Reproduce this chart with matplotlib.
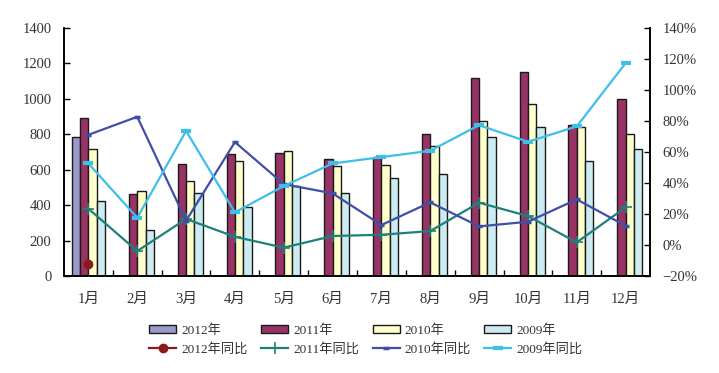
import matplotlib
matplotlib.use("Agg")
import matplotlib.pyplot as plt
import numpy as np

plt.rcParams['font.family'] = ['Liberation Serif', 'Noto Sans CJK SC']

months = ['1月', '2月', '3月', '4月', '5月', '6月', '7月', '8月', '9月', '10月', '11月', '12月']
sales_2012 = [784, np.nan, np.nan, np.nan, np.nan, np.nan, np.nan, np.nan, np.nan, np.nan, np.nan, np.nan]
sales_2011 = [891, 462, 631, 688, 694, 660, 673, 801, 1119, 1152, 852, 999]
sales_2010 = [716, 479, 535, 648, 705, 622, 626, 733, 876, 971, 841, 801]
sales_2009 = [422, 258, 467, 388, 509, 467, 552, 575, 784, 841, 648, 718]

yoy_2012 = [-12.0, np.nan, np.nan, np.nan, np.nan, np.nan, np.nan, np.nan, np.nan, np.nan, np.nan, np.nan]
yoy_2011 = [23.4, -3.9, 16.8, 5.3, -1.7, 5.8, 6.6, 9.0, 27.3, 18.7, 1.7, 24.3]
yoy_2010 = [71.1, 82.7, 15.7, 66.4, 39.3, 33.3, 12.9, 27.5, 12.0, 15.0, 29.4, 12.4]
yoy_2009 = [52.6, 17.6, 73.6, 21.1, 38.0, 52.6, 56.7, 60.8, 77.3, 66.6, 76.5, 117.3]

bar_colors = ['#9999CC', '#993366', '#FFFFCC', '#CCECF2']
line_colors = ['#8B1A1A', '#1F7F7A', '#3F4FA8', '#3DBFEA']
txt = '#333333'
fs = 10.5

fig = plt.figure(figsize=(7.19, 3.73), dpi=100)
ax = fig.add_axes([64/719, 1-276/373, (650-64)/719, (276-28)/373])
ax2 = ax.twinx()

x = np.arange(len(months))
bw = 0.17
series = [sales_2012, sales_2011, sales_2010, sales_2009]
labels_b = ['2012年', '2011年', '2010年', '2009年']
bars = []
for i, (s, c, lab) in enumerate(zip(series, bar_colors, labels_b)):
    b = ax.bar(x + (i - 1.5) * bw, s, bw, color=c, edgecolor='#1a1a1a', linewidth=1.0, label=lab, zorder=2)
    bars.append(b)

ax.set_xlim(-0.5, 11.5)
ax.set_ylim(0, 1400)
ax.set_yticks(np.arange(0, 1401, 200))
ax.set_xticks(x)
ax.set_xticklabels(months)
ax.set_xticks(np.arange(0.5, 11, 1), minor=True)
ax.tick_params(axis='x', which='major', length=0, pad=12, labelsize=fs, labelcolor=txt)
ax.tick_params(axis='x', which='minor', direction='in', length=4, width=1)
ax.tick_params(axis='y', direction='in', length=4, width=1, labelsize=fs, pad=9, labelcolor=txt)
for sp in ['top']:
    ax.spines[sp].set_visible(False)
    ax2.spines[sp].set_visible(False)
for sp in ['left', 'bottom', 'right']:
    ax.spines[sp].set_linewidth(1.2)
    ax2.spines[sp].set_linewidth(1.2)

l1, = ax2.plot(x, yoy_2012, color=line_colors[0], marker='o', markersize=6, lw=1.6, label='2012年同比', zorder=3)
l2, = ax2.plot(x, yoy_2011, color=line_colors[1], marker='+', markersize=8, mew=1.2, lw=1.6, label='2011年同比', zorder=3)
l3, = ax2.plot(x, yoy_2010, color=line_colors[2], marker='_', markersize=4, mew=2.5, lw=1.6, label='2010年同比', zorder=3)
l4, = ax2.plot(x, yoy_2009, color=line_colors[3], marker='_', markersize=6.5, mew=3, lw=1.6, label='2009年同比', zorder=3)
ax2.set_ylim(-20, 140)
ax2.set_yticks(np.arange(-20, 141, 20))
ax2.set_yticklabels([f'{v}%'.replace('-', '−') for v in range(-20, 141, 20)])
ax2.tick_params(axis='y', direction='in', length=4, width=1, labelsize=fs, pad=9, labelcolor=txt)

lfs = 9.5
handles = [bars[0], l1, bars[1], l2, bars[2], l3, bars[3], l4]
leg = fig.legend(handles=handles, labels=[h.get_label() for h in handles], ncol=4,
                 loc='center', bbox_to_anchor=(366/719, 1-340/373), frameon=False,
                 fontsize=lfs, handlelength=2.05, handleheight=0.65, handletextpad=0.4,
                 columnspacing=1.0, labelspacing=0.5)
for t in leg.get_texts():
    t.set_color(txt)

fig.savefig('out.png', dpi=100)
